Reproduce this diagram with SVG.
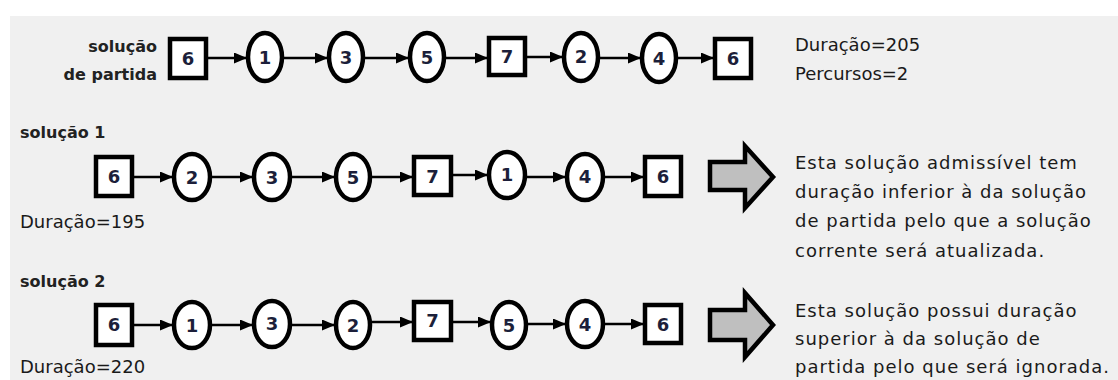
<svg xmlns="http://www.w3.org/2000/svg" width="1118" height="380" viewBox="0 0 1118 380">
<defs>
<style>
.bg{fill:#f0f0f0}
.sq,.ci{fill:#ffffff;stroke:#000;stroke-width:4.5}
.num{font-family:"DejaVu Sans",sans-serif;font-weight:bold;font-size:18px;fill:#1c1f3a;text-anchor:middle;dominant-baseline:central}
.lbl{font-family:"DejaVu Sans",sans-serif;font-weight:bold;font-size:16px;fill:#222}
.txt{font-family:"DejaVu Sans",sans-serif;font-size:18px;fill:#1a1a1a}
.desc{font-family:"DejaVu Sans",sans-serif;font-size:18px;fill:#1a1a1a;letter-spacing:1px}
.con{stroke:#000;stroke-width:2.5;fill:none;marker-end:url(#ah)}
.big{fill:#bfbfbf;stroke:#000;stroke-width:4.5;stroke-linejoin:miter}
</style>
<marker id="ah" markerUnits="userSpaceOnUse" markerWidth="13" markerHeight="11" refX="12" refY="5.5" orient="auto">
<path d="M0,0 L13,5.5 L0,11 Z" fill="#000"/>
</marker>
</defs>
<rect class="bg" x="10" y="16" width="1108" height="364"/>

<!-- labels -->
<g id="labels">
<text class="lbl" x="157" y="52" text-anchor="end">solução</text>
<text class="lbl" x="157" y="80" text-anchor="end">de partida</text>
<text class="txt" x="795" y="51">Duração=205</text>
<text class="txt" x="795" y="80">Percursos=2</text>
<text class="lbl" x="20" y="138">solução 1</text>
<text class="txt" x="20" y="228">Duração=195</text>
<text class="lbl" x="20" y="287">solução 2</text>
<text class="txt" x="20" y="373">Duração=220</text>
<text class="desc" x="795" y="169">Esta solução admissível tem</text>
<text class="desc" x="795" y="198">duração inferior à da solução</text>
<text class="desc" x="795" y="227">de partida pelo que a solução</text>
<text class="desc" x="795" y="257">corrente será atualizada.</text>
<text class="desc" x="795" y="317">Esta solução possui duração</text>
<text class="desc" x="795" y="345">superior à da solução de</text>
<text class="desc" x="795" y="373">partida pelo que será ignorada.</text>
</g>

<!-- connectors -->
<g id="connectors">
<line class="con" x1="208" y1="58" x2="246" y2="58"/>
<line class="con" x1="284" y1="58" x2="327" y2="58"/>
<line class="con" x1="365" y1="58" x2="408" y2="58"/>
<line class="con" x1="446" y1="58" x2="487" y2="58"/>
<line class="con" x1="527" y1="57" x2="562" y2="57"/>
<line class="con" x1="600" y1="58" x2="640" y2="58"/>
<line class="con" x1="678" y1="58" x2="713" y2="58"/>

<line class="con" x1="134" y1="177" x2="172" y2="177"/>
<line class="con" x1="212" y1="177" x2="252" y2="177"/>
<line class="con" x1="292" y1="177" x2="334" y2="177"/>
<line class="con" x1="372" y1="177" x2="412" y2="177"/>
<line class="con" x1="453" y1="175" x2="487" y2="175"/>
<line class="con" x1="527" y1="177" x2="565" y2="177"/>
<line class="con" x1="605" y1="177" x2="643" y2="177"/>

<line class="con" x1="134" y1="325" x2="172" y2="325"/>
<line class="con" x1="212" y1="325" x2="252" y2="325"/>
<line class="con" x1="292" y1="325" x2="334" y2="325"/>
<line class="con" x1="372" y1="322" x2="412" y2="322"/>
<line class="con" x1="453" y1="322" x2="490" y2="322"/>
<line class="con" x1="528" y1="324" x2="565" y2="324"/>
<line class="con" x1="605" y1="324" x2="643" y2="324"/>
</g>

<!-- row 0 -->
<g id="r0n1"><rect class="sq" x="170" y="39" width="36" height="39"/><text class="num" x="188" y="58">6</text></g>
<g id="r0n2"><ellipse class="ci" cx="265" cy="57" rx="17" ry="24"/><text class="num" x="265" y="57">1</text></g>
<g id="r0n3"><ellipse class="ci" cx="346" cy="57" rx="17" ry="24"/><text class="num" x="346" y="57">3</text></g>
<g id="r0n4"><ellipse class="ci" cx="427" cy="57" rx="17" ry="24"/><text class="num" x="427" y="57">5</text></g>
<g id="r0n5"><rect class="sq" x="489" y="38" width="36" height="37"/><text class="num" x="507" y="56">7</text></g>
<g id="r0n6"><ellipse class="ci" cx="581" cy="57" rx="17" ry="24"/><text class="num" x="581" y="56">2</text></g>
<g id="r0n7"><ellipse class="ci" cx="659" cy="58" rx="17" ry="24"/><text class="num" x="659" y="58">4</text></g>
<g id="r0n8"><rect class="sq" x="715" y="39" width="36" height="39"/><text class="num" x="733" y="58">6</text></g>

<!-- row 1 -->
<g id="r1n1"><rect class="sq" x="96" y="157" width="36" height="39"/><text class="num" x="114" y="176">6</text></g>
<g id="r1n2"><ellipse class="ci" cx="192" cy="177" rx="18" ry="23"/><text class="num" x="192" y="177">2</text></g>
<g id="r1n3"><ellipse class="ci" cx="272" cy="177" rx="18" ry="23"/><text class="num" x="272" y="177">3</text></g>
<g id="r1n4"><ellipse class="ci" cx="353" cy="177" rx="17" ry="23"/><text class="num" x="353" y="177">5</text></g>
<g id="r1n5"><rect class="sq" x="414" y="157" width="37" height="38"/><text class="num" x="432.5" y="176">7</text></g>
<g id="r1n6"><ellipse class="ci" cx="507" cy="175" rx="18" ry="23"/><text class="num" x="507" y="174">1</text></g>
<g id="r1n7"><ellipse class="ci" cx="585" cy="177" rx="18" ry="23"/><text class="num" x="585" y="176">4</text></g>
<g id="r1n8"><rect class="sq" x="645" y="157" width="36" height="39"/><text class="num" x="663" y="176">6</text></g>
<g id="r1arrow"><polygon class="big" points="710,162 745,162 745,146 773,177 745,208 745,190 710,190"/></g>

<!-- row 2 -->
<g id="r2n1"><rect class="sq" x="96" y="305" width="36" height="40"/><text class="num" x="114" y="324">6</text></g>
<g id="r2n2"><ellipse class="ci" cx="192" cy="325" rx="18" ry="23"/><text class="num" x="192" y="325">1</text></g>
<g id="r2n3"><ellipse class="ci" cx="272" cy="324" rx="18" ry="23"/><text class="num" x="272" y="323">3</text></g>
<g id="r2n4"><ellipse class="ci" cx="353" cy="325" rx="17" ry="23"/><text class="num" x="353" y="325">2</text></g>
<g id="r2n5"><rect class="sq" x="414" y="302" width="37" height="38"/><text class="num" x="432.5" y="320">7</text></g>
<g id="r2n6"><ellipse class="ci" cx="509" cy="325" rx="17" ry="23"/><text class="num" x="509" y="325">5</text></g>
<g id="r2n7"><ellipse class="ci" cx="585" cy="324" rx="18" ry="23"/><text class="num" x="585" y="324">4</text></g>
<g id="r2n8"><rect class="sq" x="645" y="305" width="36" height="38"/><text class="num" x="663" y="324">6</text></g>
<g id="r2arrow"><polygon class="big" points="710,310 745,310 745,293 773,325 745,357 745,340 710,340"/></g>
</svg>
